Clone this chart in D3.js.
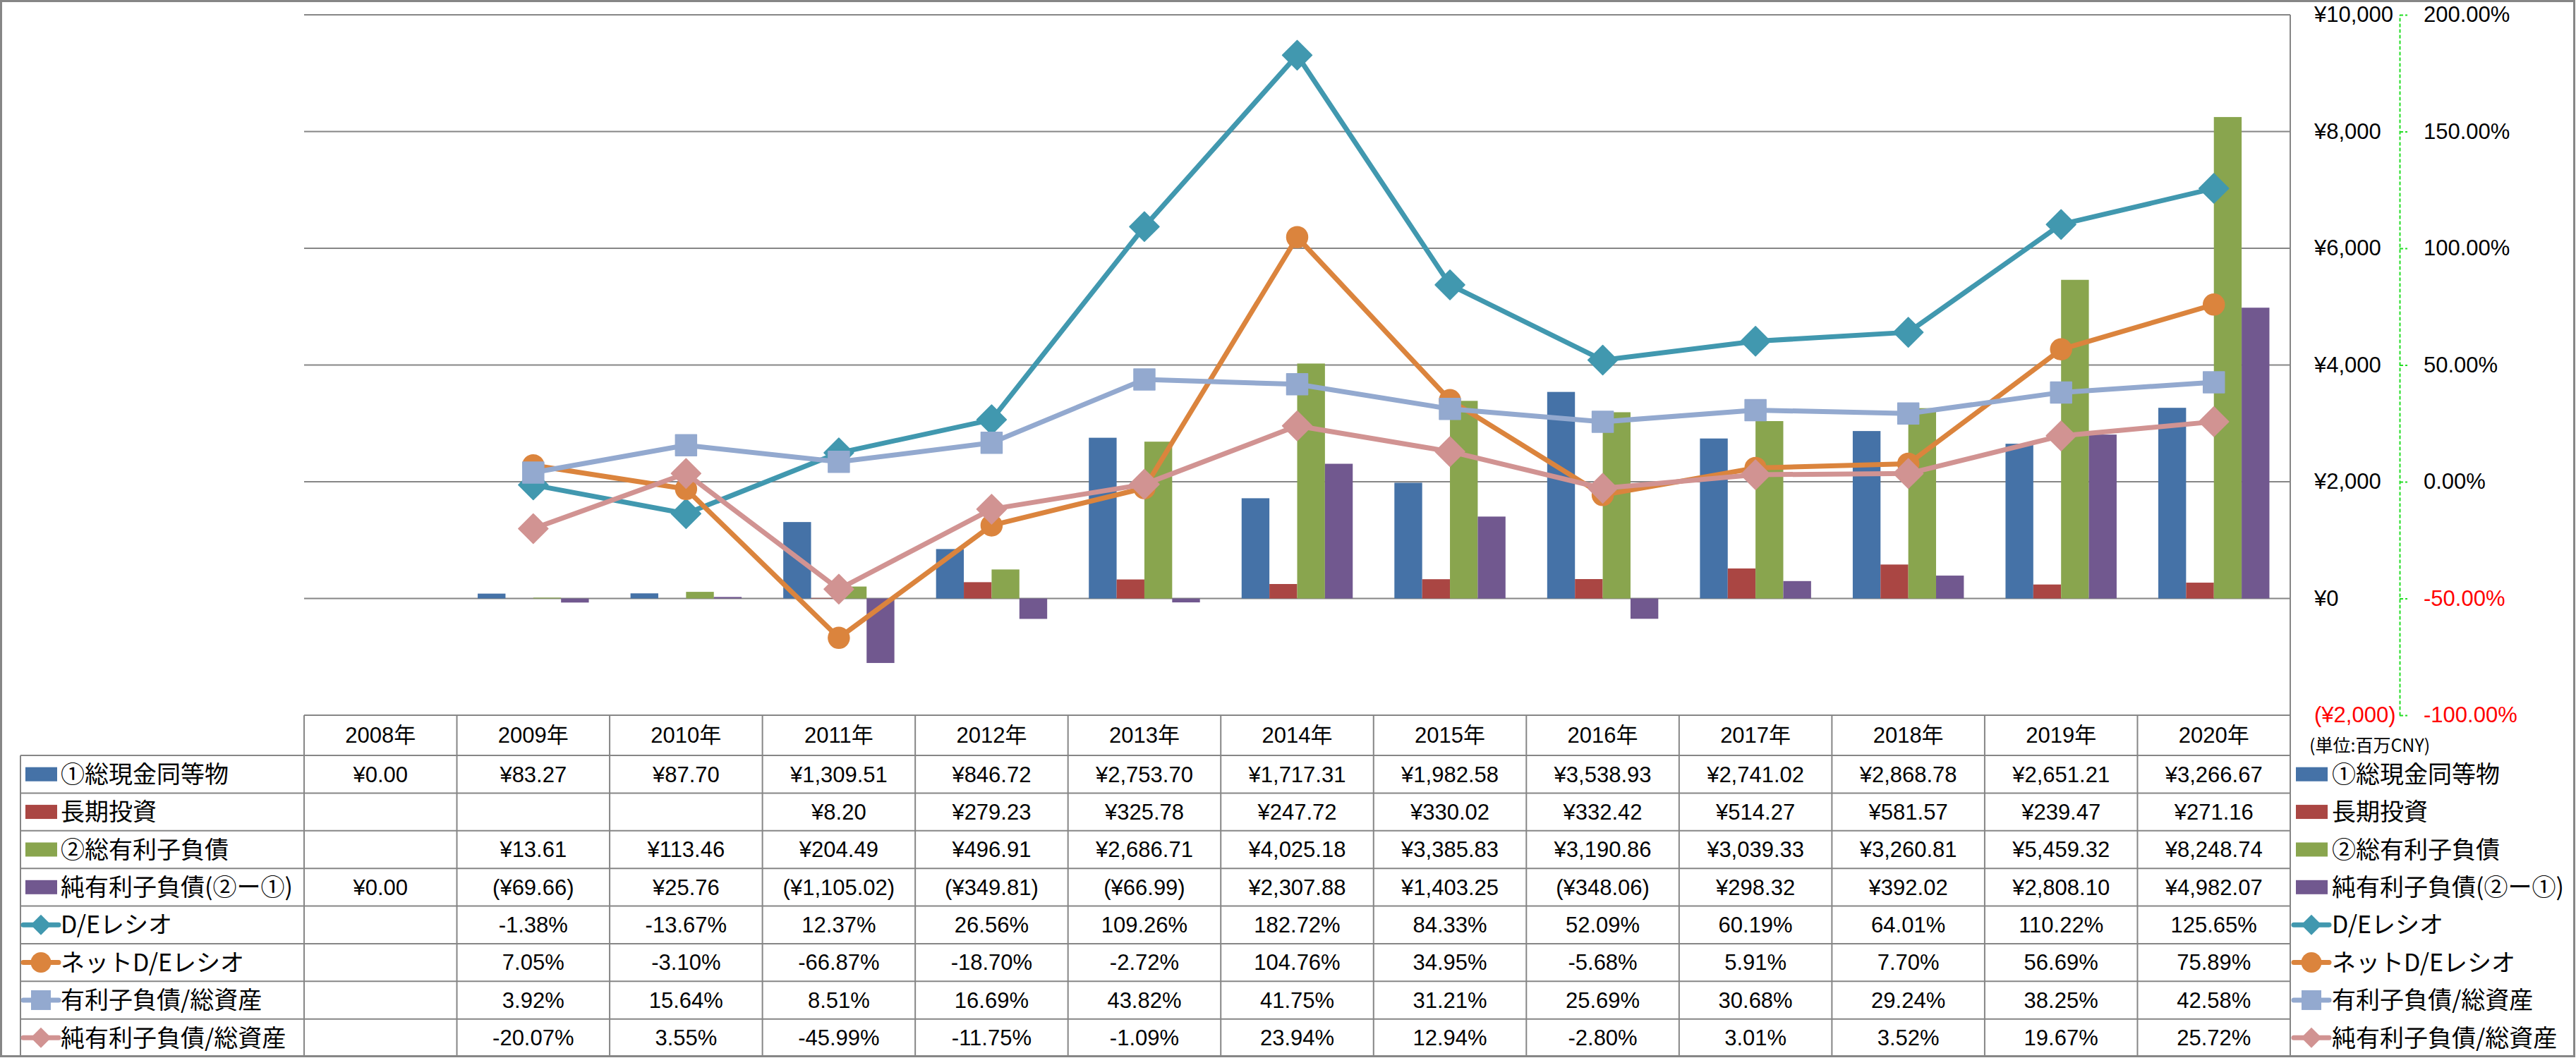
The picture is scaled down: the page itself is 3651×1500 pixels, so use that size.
<!DOCTYPE html>
<html><head><meta charset="utf-8">
<script src="https://cdn.jsdelivr.net/npm/d3@7"></script>
<style>
html,body{margin:0;padding:0;background:#fff;}
svg{display:block;}
text{font-family:"Liberation Sans","Noto Sans CJK JP",sans-serif;}
.jp{font-family:"Noto Sans CJK JP","Liberation Sans",sans-serif;}
</style></head>
<body>
<svg id="c" width="3651" height="1500"></svg>
<script>
// ---- data ----
const years = ["2008年","2009年","2010年","2011年","2012年","2013年","2014年","2015年","2016年","2017年","2018年","2019年","2020年"];
const cash = [0.00, 83.27, 87.70, 1309.51, 846.72, 2753.70, 1717.31, 1982.58, 3538.93, 2741.02, 2868.78, 2651.21, 3266.67];
const longInv = [null, null, null, 8.20, 279.23, 325.78, 247.72, 330.02, 332.42, 514.27, 581.57, 239.47, 271.16];
const debt = [null, 13.61, 113.46, 204.49, 496.91, 2686.71, 4025.18, 3385.83, 3190.86, 3039.33, 3260.81, 5459.32, 8248.74];
const netDebt = [0.00, -69.66, 25.76, -1105.02, -349.81, -66.99, 2307.88, 1403.25, -348.06, 298.32, 392.02, 2808.10, 4982.07];
const deRatio = [null, -1.38, -13.67, 12.37, 26.56, 109.26, 182.72, 84.33, 52.09, 60.19, 64.01, 110.22, 125.65];
const netDeRatio = [null, 7.05, -3.10, -66.87, -18.70, -2.72, 104.76, 34.95, -5.68, 5.91, 7.70, 56.69, 75.89];
const debtToAssets = [null, 3.92, 15.64, 8.51, 16.69, 43.82, 41.75, 31.21, 25.69, 30.68, 29.24, 38.25, 42.58];
const netDebtToAssets = [null, -20.07, 3.55, -45.99, -11.75, -1.09, 23.94, 12.94, -2.80, 3.01, 3.52, 19.67, 25.72];
const leftTicks = [-2000, 0, 2000, 4000, 6000, 8000, 10000];
const rightTicks = [-100, -50, 0, 50, 100, 150, 200];
const unitLabel = "(単位:百万CNY)";

const barSeries = [
  {name:"①総現金同等物", values:cash, color:"#4572A7"},
  {name:"長期投資", values:longInv, color:"#AA4643"},
  {name:"②総有利子負債", values:debt, color:"#89A54E"},
  {name:"純有利子負債(②ー①)", values:netDebt, color:"#71588F"}
];
const lineSeries = [
  {name:"D/Eレシオ", values:deRatio, color:"#4198AF", marker:"diamond"},
  {name:"ネットD/Eレシオ", values:netDeRatio, color:"#DB843D", marker:"circle"},
  {name:"有利子負債/総資産", values:debtToAssets, color:"#93A9CF", marker:"square"},
  {name:"純有利子負債/総資産", values:netDebtToAssets, color:"#D19392", marker:"diamond"}
];

const loc = d3.formatLocale({decimal:".", thousands:",", grouping:[3], currency:["¥",""], minus:"-"});
const f0 = loc.format(","), f2 = loc.format(",.2f"), p2 = loc.format(".2f");

// ---- layout ----
const svg = d3.select("#c");
const PL = 431, PR = 3246, PT = 21, PB = 1014;
const TB = 1498, HDR = 1071, TL = 29;
const GRID = "#868686";

svg.append("rect").attr("x",0).attr("y",0).attr("width",3651).attr("height",1500).attr("fill","#fff");

const x = d3.scaleBand().domain(years).range([PL, PR]).paddingInner(0).paddingOuter(0);
const xs = d3.scaleBand().domain(barSeries.map(d=>d.name)).range([0, x.bandwidth()]).paddingInner(0).paddingOuter(0.75);
const yL = d3.scaleLinear().domain([-2000, 10000]).range([PB, PT]);
const yR = d3.scaleLinear().domain([-100, 200]).range([PB, PT]);

// gridlines
svg.append("g").selectAll("line").data(leftTicks).join("line")
  .attr("x1", PL).attr("x2", PR).attr("y1", d=>yL(d)).attr("y2", d=>yL(d))
  .attr("stroke", GRID).attr("stroke-width", 2);

// bars
const gb = svg.append("g");
barSeries.forEach(s=>{
  gb.append("g").selectAll("rect").data(s.values.map((v,i)=>({v, y:years[i]})).filter(d=>d.v!=null)).join("rect")
    .attr("x", d=>x(d.y)+xs(s.name))
    .attr("width", xs.bandwidth())
    .attr("y", d=>Math.min(yL(0), yL(d.v)))
    .attr("height", d=>Math.abs(yL(d.v)-yL(0)))
    .attr("fill", s.color);
});

// lines
function markerPath(type, big){
  if(type==="diamond") return d3.symbol(d3.symbolSquare, big?880:420)();
  if(type==="circle") return d3.symbol(d3.symbolCircle, big?707:660)();
  return d3.symbol(d3.symbolSquare, big?900:784)();
}
const gl = svg.append("g");
lineSeries.forEach(s=>{
  const pts = s.values.map((v,i)=>({v, y:years[i]}));
  const line = d3.line().defined(d=>d.v!=null).x(d=>x(d.y)+x.bandwidth()/2).y(d=>yR(d.v));
  gl.append("path").attr("d", line(pts)).attr("fill","none").attr("stroke", s.color)
    .attr("stroke-width", 7).attr("stroke-linejoin","round");
  gl.append("g").selectAll("path").data(pts.filter(d=>d.v!=null)).join("path")
    .attr("d", markerPath(s.marker, true))
    .attr("transform", d=>`translate(${x(d.y)+x.bandwidth()/2},${yR(d.v)})${s.marker==="diamond"?" rotate(45)":""}`)
    .attr("fill", s.color).attr("stroke", s.color).attr("stroke-width", 1.5).attr("stroke-linejoin","round");
});

// right edge of plot
svg.append("line").attr("x1",PR).attr("x2",PR).attr("y1",PT).attr("y2",TB).attr("stroke",GRID).attr("stroke-width",2);

// left-value axis labels (on the right)
const axL = d3.axisRight(yL).tickValues(leftTicks).tickSize(0).tickPadding(34)
  .tickFormat(v => v<0 ? "(¥"+f0(-v)+")" : "¥"+f0(v));
const gL = svg.append("g").attr("transform",`translate(${PR},0)`).call(axL);
gL.select(".domain").remove();
gL.selectAll("text").attr("font-size",31).attr("font-family",null).attr("fill", d=>d<0?"#FF0000":"#000");

// right (%) axis
const axR = d3.axisRight(yR).tickValues(rightTicks).tickSize(11).tickSizeOuter(0).tickPadding(23)
  .tickFormat(v => p2(v)+"%");
const gR = svg.append("g").attr("transform",`translate(3401,0)`).call(axR);
gR.select(".domain").attr("stroke","#22DD22").attr("stroke-width",2).attr("stroke-dasharray","5,3");
gR.selectAll(".tick line").attr("stroke","#22DD22").attr("stroke-width",2).attr("stroke-dasharray","5,3");
gR.selectAll("text").attr("font-size",31).attr("font-family",null).attr("fill", d=>d<0?"#FF0000":"#000");

// unit label
svg.append("text").attr("class","jp").attr("x",3273).attr("y",1057).attr("dy","0.35em")
  .attr("font-size",25).text(unitLabel);

// ---- data table ----
const rows = barSeries.concat(lineSeries).map(d=>d.name);
const yRow = d3.scaleBand().domain(rows).range([HDR, TB]);
const gt = svg.append("g");
gt.append("line").attr("x1",PL).attr("x2",PR).attr("y1",PB).attr("y2",PB).attr("stroke",GRID).attr("stroke-width",2);
gt.selectAll(".hl").data(rows).join("line").attr("class","hl")
  .attr("x1",TL).attr("x2",PR).attr("y1",d=>yRow(d)).attr("y2",d=>yRow(d)).attr("stroke",GRID).attr("stroke-width",2);
gt.append("line").attr("x1",TL).attr("x2",TL).attr("y1",HDR).attr("y2",TB).attr("stroke",GRID).attr("stroke-width",2);
gt.selectAll(".vl").data(years).join("line").attr("class","vl")
  .attr("x1",d=>x(d)).attr("x2",d=>x(d)).attr("y1",PB).attr("y2",TB).attr("stroke",GRID).attr("stroke-width",2);
gt.selectAll(".hd").data(years).join("text").attr("class","hd")
  .attr("x",d=>x(d)+x.bandwidth()/2).attr("y",(PB+HDR)/2).attr("dy","0.35em")
  .attr("text-anchor","middle").attr("font-size",31).text(d=>d);

const fmtY = v => v==null ? "" : (v<0 ? "(¥"+f2(-v)+")" : "¥"+f2(v));
const fmtP = v => v==null ? "" : p2(v)+"%";
barSeries.forEach(s=>{
  gt.append("g").selectAll("text").data(s.values.map((v,i)=>({v,y:years[i]}))).join("text")
    .attr("x",d=>x(d.y)+x.bandwidth()/2).attr("y",yRow(s.name)+yRow.bandwidth()/2).attr("dy","0.35em")
    .attr("text-anchor","middle").attr("font-size",31).text(d=>fmtY(d.v));
});
lineSeries.forEach(s=>{
  gt.append("g").selectAll("text").data(s.values.map((v,i)=>({v,y:years[i]}))).join("text")
    .attr("x",d=>x(d.y)+x.bandwidth()/2).attr("y",yRow(s.name)+yRow.bandwidth()/2).attr("dy","0.35em")
    .attr("text-anchor","middle").attr("font-size",31).text(d=>fmtP(d.v));
});

// legend keys
function legendKey(g, s, isLine, x0, textX, cy){
  if(!isLine){
    g.append("rect").attr("x",x0).attr("y",cy-10).attr("width",45).attr("height",20).attr("fill",s.color);
  } else {
    g.append("line").attr("x1",x0-3).attr("x2",x0+47).attr("y1",cy).attr("y2",cy)
      .attr("stroke",s.color).attr("stroke-width",7).attr("stroke-linecap","round");
    g.append("path").attr("d",markerPath(s.marker,false))
      .attr("transform",`translate(${x0+22},${cy})${s.marker==="diamond"?" rotate(45)":""}`)
      .attr("fill",s.color);
  }
  g.append("text").attr("class","jp").attr("x",textX).attr("y",cy).attr("dy","0.36em")
    .attr("font-size",34).text(s.name);
}
const gLeg = svg.append("g");
barSeries.forEach(s=>{
  const cy = yRow(s.name)+yRow.bandwidth()/2;
  legendKey(gLeg, s, false, 36, 86, cy);
  legendKey(gLeg, s, false, 3254, 3305, cy);
});
lineSeries.forEach(s=>{
  const cy = yRow(s.name)+yRow.bandwidth()/2;
  legendKey(gLeg, s, true, 36, 86, cy);
  legendKey(gLeg, s, true, 3254, 3305, cy);
});

// outer frame
svg.append("rect").attr("x",1.5).attr("y",1.5).attr("width",3647).attr("height",1496)
  .attr("fill","none").attr("stroke",GRID).attr("stroke-width",3);
</script>
</body></html>
